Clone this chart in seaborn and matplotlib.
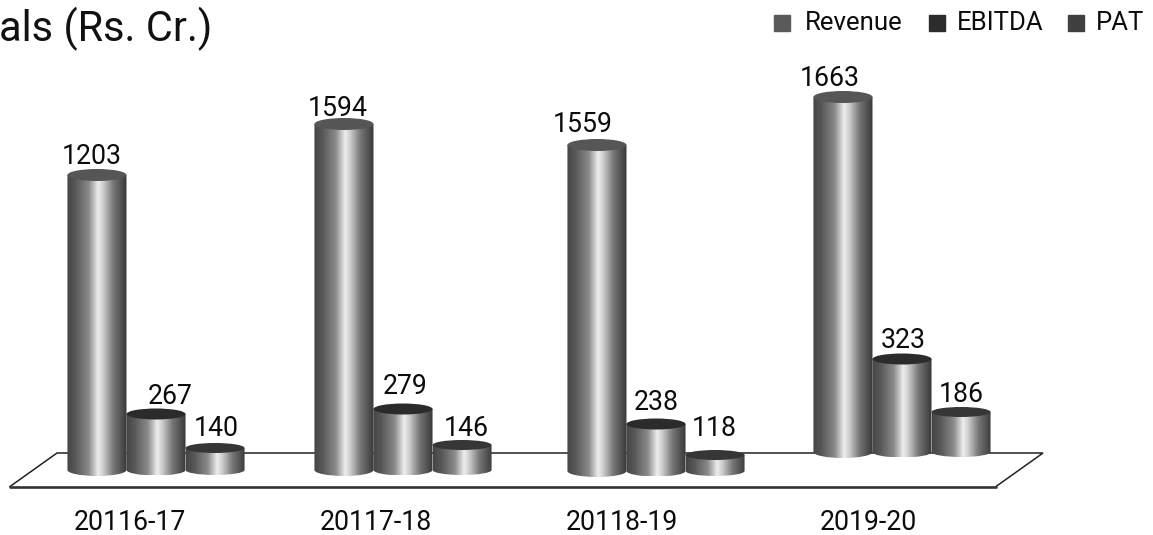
import numpy as np
import pandas as pd
import matplotlib
matplotlib.use("Agg")
import matplotlib.pyplot as plt
import seaborn as sns
from matplotlib.colors import LinearSegmentedColormap
from matplotlib.patches import Ellipse, PathPatch
from matplotlib.path import Path

years = ["20116-17", "20117-18", "20118-19", "2019-20"]
metrics = ["Revenue", "EBITDA", "PAT"]
revenue = [1203, 1594, 1559, 1663]
ebitda = [267, 279, 238, 323]
pat = [140, 146, 118, 186]

# Hand-drawn pictorial scale of the reference: value -> height in pixels
scale_values = [0, 118, 140, 146, 186, 238, 267, 279, 323, 1203, 1559, 1594, 1663, 2500]
scale_pixels = [0, 16, 22, 25, 40, 47, 56, 61, 93, 295, 326, 346, 355, 480]

W, H = 1153, 535
BASE_Y = 470
group_dx = [0, 1, 8, 8]
group_dy = [0, 0, 1, -18]
label_dx = {"Revenue": [-5, -6, -14, -13], "EBITDA": [14, 2, 0, 1], "PAT": [1, 4, -1, 0]}
label_dy = {"Revenue": [-19, -16, -20, -18], "EBITDA": [-18, -23, -22, -18], "PAT": [-20, -16, -27, -17]}
cap_colors = {"Revenue": "#565656", "EBITDA": "#2b2b2b", "PAT": "#363636"}
legend_colors = {"Revenue": "#5a5a5a", "EBITDA": "#2c2c2c", "PAT": "#404040"}
cap_ry = {"Revenue": 6, "EBITDA": 5.5, "PAT": 5}

sns.set_theme(style="white")
plt.rcParams["font.family"] = ["Roboto", "DejaVu Sans"]

df = pd.DataFrame({
    "Year": np.repeat(years, 3),
    "Metric": metrics * 4,
    "Value": np.ravel(np.column_stack([revenue, ebitda, pat])),
})

fig = plt.figure(figsize=(W / 100, H / 100), dpi=100, facecolor="white")
ax = fig.add_axes([0, (H - BASE_Y) / H, 1, BASE_Y / H])
sns.barplot(data=df, x="Year", y="Value", hue="Metric", order=years, hue_order=metrics,
            width=0.72, gap=0, dodge=True, legend=False, errorbar=None, ax=ax)
ax.set_yscale("function", functions=(
    lambda v: np.interp(v, scale_values, scale_pixels),
    lambda p: np.interp(p, scale_pixels, scale_values)))
ax.set_ylim(0, np.interp(BASE_Y, scale_pixels, scale_values))
ax.set_xlim(-156 / 246, (W - 156) / 246)
ax.axis("off")

ov = fig.add_axes([0, 0, 1, 1], zorder=5)
ov.set_xlim(0, W)
ov.set_ylim(H, 0)
ov.axis("off")
ov.patch.set_alpha(0)

# floor
ov.plot([10, 57, 1043, 996], [486.5, 453, 453, 486.5], color="#222222", lw=1.1, zorder=1,
        solid_joinstyle="miter")
ov.plot([10, 996], [486.5, 486.5], color="#333333", lw=1.9, zorder=1)

grad = LinearSegmentedColormap.from_list("cyl", [
    (0.0, "#454545"), (0.14, "#585858"), (0.36, "#8a8a8a"), (0.52, "#eeeeee"),
    (0.60, "#d0d0d0"), (0.78, "#767676"), (1.0, "#383838")])
g = np.linspace(0, 1, 128)[None, :]

z = 2
for metric, container in zip(metrics, ax.containers):
    for i, bar in enumerate(container):
        bb = bar.get_window_extent()
        bar.set_visible(False)
        x0 = bb.x0 + group_dx[i]
        x1 = bb.x1 + group_dx[i]
        yb = BASE_Y + group_dy[i]
        yt = yb - bb.height
        xc = (x0 + x1) / 2
        ry = cap_ry[metric]
        k = 0.5523
        rx = (x1 - x0) / 2
        verts = [(x0, yt), (x0, yb),
                 (x0, yb + k * ry), (xc - k * rx, yb + ry), (xc, yb + ry),
                 (xc + k * rx, yb + ry), (x1, yb + k * ry), (x1, yb),
                 (x1, yt), (x0, yt)]
        codes = [Path.MOVETO, Path.LINETO, Path.CURVE4, Path.CURVE4, Path.CURVE4,
                 Path.CURVE4, Path.CURVE4, Path.CURVE4, Path.LINETO, Path.CLOSEPOLY]
        body = PathPatch(Path(verts, codes), fc="none", ec="none", zorder=z)
        ov.add_patch(body)
        im = ov.imshow(g, extent=(x0, x1, yb + ry, yt), cmap=grad, vmin=0, vmax=1,
                       aspect="auto", zorder=z, interpolation="bilinear")
        im.set_clip_path(body)
        ov.add_patch(Ellipse((xc, yt), x1 - x0, 2 * ry, fc=cap_colors[metric], ec="none", zorder=z + 0.5))
        ov.text(xc + label_dx[metric][i], yt + label_dy[metric][i], f"{int(bar.get_height())}",
                ha="center", va="center", fontsize=19.2, color="#0c0c0c", zorder=20)
        z += 1
ov.set_xlim(0, W)
ov.set_ylim(H, 0)

for name, tx in zip(years, [130, 375.5, 621.5, 868]):
    ov.text(tx, 522, name, ha="center", va="center", fontsize=19.2, color="#0c0c0c")

ov.text(-1, 29, "als (Rs. Cr.)", ha="left", va="center", fontsize=30, color="#111111")

for m, sx, tx in zip(metrics, [782, 937, 1076], [805, 957, 1096]):
    ov.plot([sx], [23], marker="s", ms=11, color=legend_colors[m], ls="none")
    ov.text(tx, 23.5, m, ha="left", va="center", fontsize=18.5, color="#0c0c0c")

fig.savefig("out.png", dpi=100)
